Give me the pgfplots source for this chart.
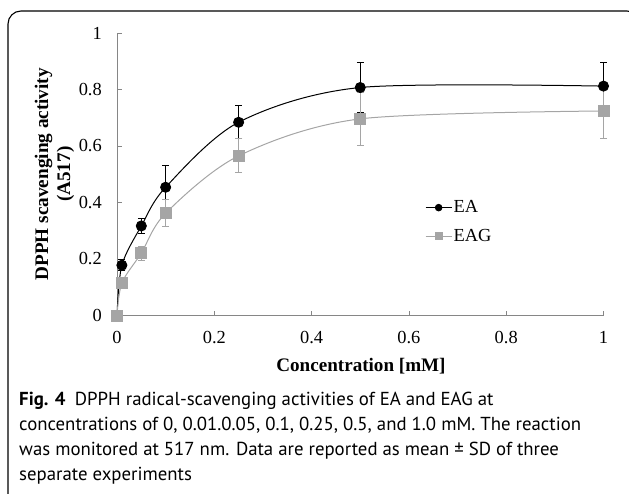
\documentclass[border=0pt]{standalone}
\usepackage{fontspec}
\setmainfont{Liberation Serif}
\newfontfamily\capfont{PT Sans}
\usepackage{pgfplots}
\pgfplotsset{compat=1.18}
\definecolor{axgray}{HTML}{868686}
\definecolor{eaggray}{HTML}{A5A5A5}
\pgfplotstableread{
x y e
0 0 0
0.01 0.178 0.02
0.05 0.317 0.025
0.1 0.454 0.078
0.25 0.684 0.058
0.5 0.807 0.09
1 0.812 0.082
}\tabEA
\pgfplotstableread{
x y e
0 0 0
0.01 0.115 0.02
0.05 0.221 0.025
0.1 0.362 0.048
0.25 0.565 0.06
0.5 0.696 0.094
1 0.724 0.097
}\tabEAG
\begin{document}
\begin{tikzpicture}
\useasboundingbox (0pt,0pt) rectangle (629pt,-494pt);
\begin{scope}
\clip (0pt,0pt) rectangle (629pt,-494pt);
\draw[line width=1.1pt, rounded corners=13pt] (8pt,-530pt) -- (8pt,-11pt) -- (640pt,-11pt) -- (640pt,-530pt);
\end{scope}
\begin{axis}[at={(117pt,-315.5pt)}, anchor=south west, scale only axis,
  width=486.5pt, height=282.5pt,
  xmin=0, xmax=1, ymin=0, ymax=1,
  axis x line=bottom, axis y line=left,
  axis line style={axgray, line width=0.8pt, -},
  xtick={0,0.2,0.4,0.6,0.8,1}, ytick={0,0.2,0.4,0.6,0.8,1},
  tick style={axgray, line width=0.8pt},
  major tick length=5pt, tick align=inside,
  /pgf/number format/assume math mode=true,
  tick label style={font=\fontsize{18.4}{21}\selectfont, black},
  yticklabel style={anchor=east, inner sep=0pt, xshift=-15pt},
  xticklabel style={anchor=north, inner sep=0pt, yshift=-16pt},
  ylabel={DPPH scavenging activity\\(A517)},
  ylabel style={font=\bfseries\fontsize{19.2}{22}\selectfont, align=center, at={(axis description cs:-0.1285,0.5)}, anchor=center, rotate=0},
  clip=false,
  legend style={at={(0.633,0.412)}, anchor=north west, draw=none, fill=none,
    font=\fontsize{18.4}{21}\selectfont, row sep=12pt, inner sep=0pt,
    nodes={inner sep=1.5pt}},
  legend cell align=left,
  legend image code/.code={\draw[mark repeat=2,mark phase=2,#1, every mark/.append style={scale=0.65}] plot coordinates {(0pt,0pt) (13pt,0pt) (26pt,0pt)};},
]
\addplot[black, line width=1pt, smooth, mark=*, mark size=5pt,
  mark options={solid, fill=black},
  error bars/.cd, y dir=both, y explicit,
  error bar style={black, line width=0.9pt},
  error mark options={rotate=90, mark size=3.5pt, black, line width=0.9pt}]
  table[x=x, y=y, y error=e] {\tabEA};
\addlegendentry{EA}
\addplot[eaggray, line width=1pt, smooth, mark=square*, mark size=5.5pt,
  mark options={solid, fill=eaggray},
  error bars/.cd, y dir=both, y explicit,
  error bar style={eaggray, line width=0.9pt},
  error mark options={rotate=90, mark size=3.5pt, eaggray, line width=0.9pt}]
  table[x=x, y=y, y error=e] {\tabEAG};
\addlegendentry{EAG}
\node[font=\bfseries\fontsize{19.1}{22}\selectfont, anchor=base, inner sep=0pt] at (axis description cs:0.5015,-0.1965) {Concentration [mM]};
\end{axis}
\node[anchor=north west, inner sep=0pt, align=left, font=\capfont\fontsize{18.8}{25}\selectfont] at (19pt,-391.5pt)
{\textbf{Fig. 4}\hspace{0.5em}DPPH radical-scavenging activities of EA and EAG at\\
concentrations of 0, 0.01.0.05, 0.1, 0.25, 0.5, and 1.0 mM. The reaction\\
was monitored at 517 nm. Data are reported as mean ± SD of three\\
separate experiments};
\end{tikzpicture}
\end{document}
